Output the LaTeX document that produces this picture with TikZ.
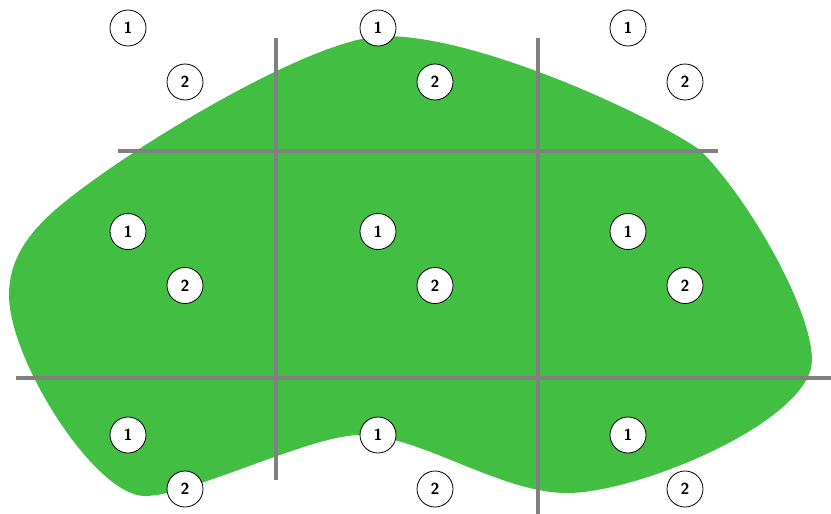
\documentclass[tikz,border=0pt]{standalone}
\usepackage{fontspec}
\tikzset{
  num/.style={circle,draw=black,line width=0.8pt,fill=white,minimum size=36pt,inner sep=0pt,font=\sffamily\bfseries\fontsize{16}{16}\selectfont},
  grid/.style={draw={rgb,255:red,128;green,128;blue,128},line width=3.5pt}}
\definecolor{blob}{RGB}{66,190,66}
\begin{document}
\begin{tikzpicture}[x=1pt,y=-1pt]
\useasboundingbox (0,0) rectangle (831,514);
\fill[blob] (385,36) .. controls (480,36) and (650,115) .. (700,150)
  .. controls (750,200) and (812,310) .. (812,360)
  .. controls (812,420) and (640,493) .. (567,493)
  .. controls (500,493) and (420,435) .. (360,435)
  .. controls (310,435) and (190,496) .. (145,496)
  .. controls (95,496) and (9,360) .. (9,295)
  .. controls (9,250) and (40,220) .. (80,190)
  .. controls (160,130) and (320,36) .. (385,36) -- cycle;
\coordinate (v1t) at (276,38); \coordinate (v1b) at (276,480);
\coordinate (v2t) at (538,38); \coordinate (v2b) at (538,514);
\coordinate (h1l) at (118,151); \coordinate (h1r) at (718,151);
\coordinate (h2l) at (16,378); \coordinate (h2r) at (831,378);
\draw[grid] (v1t) -- (v1b);
\draw[grid] (v2t) -- (v2b);
\draw[grid] (h1l) -- (h1r);
\draw[grid] (h2l) -- (h2r);
\foreach \c [count=\i] in {0,1,2}{
  \foreach \r [count=\j] in {0,1,2}{
    \pgfmathsetmacro{\xa}{128+250*\c}
    \pgfmathsetmacro{\ya}{28+203.5*\r}
    \node[num] (a\i\j) at (\xa,\ya) {1};
    \node[num] (b\i\j) at (\xa+57,\ya+54) {2};
  }
}
\end{tikzpicture}
\end{document}
